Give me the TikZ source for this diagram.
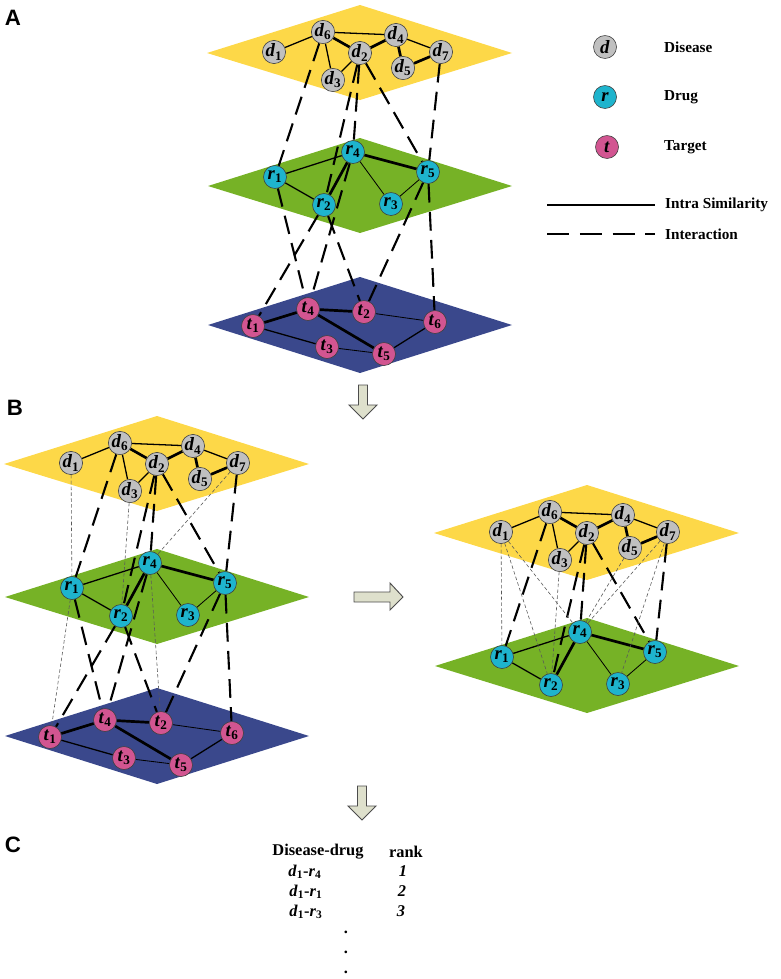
\documentclass[tikz,border=0pt]{standalone}
\usepackage{fontspec}
\setmainfont{Liberation Serif}
\newfontfamily\panelfont{Liberation Sans}
\usetikzlibrary{positioning}

\definecolor{diseaseplane}{RGB}{253,216,72}
\definecolor{drugplane}{RGB}{118,178,38}
\definecolor{targetplane}{RGB}{58,72,140}
\definecolor{diseasenode}{RGB}{192,192,192}
\definecolor{drugnode}{RGB}{30,180,205}
\definecolor{targetnode}{RGB}{210,85,145}
\definecolor{arrowfill}{RGB}{222,224,204}

\pgfdeclarelayer{planes}
\pgfdeclarelayer{links}
\pgfsetlayers{planes,links,main}

\newcommand{\lab}[2]{\textit{#1}\textsubscript{#2}}

\tikzset{
    vertex/.style={circle, draw=black!75, line width=0.5pt, minimum size=0.69cm, inner sep=0pt,
        font=\bfseries\fontsize{16}{16}\selectfont},
    dnode/.style={vertex, fill=diseasenode},
    rnode/.style={vertex, fill=drugnode},
    tnode/.style={vertex, fill=targetnode},
    sim/.style={line width=1.1pt},
    simthick/.style={line width=2.3pt},
    simthin/.style={line width=0.7pt},
    inter/.style={line width=1.8pt, dash pattern=on 16pt off 8pt},
    pred/.style={line width=0.5pt, black!65, dash pattern=on 3pt off 2pt},
    bigarrow/.style={draw=black!70, fill=arrowfill, line width=0.8pt, line join=miter},
    legendtext/.style={anchor=west, font=\bfseries\fontsize{13}{15}\selectfont},
    tabtext/.style={font=\bfseries\fontsize{14}{16}\selectfont},
    panel/.style={font=\panelfont\bfseries\fontsize{19}{19}\selectfont},
}

% one layer of the network, #1 = name prefix
\newcommand{\diseaselayer}[1]{%
    \begin{pgfonlayer}{planes}
        \fill[diseaseplane] (207,53) -- (360,5) -- (512,53) -- (360,100) -- cycle;
    \end{pgfonlayer}
    \node[dnode] (#1d1) at (274,52) {\lab{d}{1}};
    \node[dnode] (#1d6) at (323,32) {\lab{d}{6}};
    \node[dnode] (#1d2) at (360,53) {\lab{d}{2}};
    \node[dnode] (#1d3) at (333,80) {\lab{d}{3}};
    \node[dnode] (#1d4) at (396,35) {\lab{d}{4}};
    \node[dnode] (#1d5) at (403,68) {\lab{d}{5}};
    \node[dnode] (#1d7) at (441,52) {\lab{d}{7}};
    \begin{pgfonlayer}{links}
        \draw[sim] (#1d1) -- (#1d6);
        \draw[sim] (#1d6) -- (#1d4);
        \draw[simthick] (#1d6) -- (#1d2);
        \draw[sim] (#1d6) -- (#1d3);
        \draw[sim] (#1d3) -- (#1d2);
        \draw[simthick] (#1d2) -- (#1d4);
        \draw[sim] (#1d4) -- (#1d7);
        \draw[simthick] (#1d4) -- (#1d5);
        \draw[simthick] (#1d5) -- (#1d7);
    \end{pgfonlayer}
}
\newcommand{\druglayer}[1]{%
    \begin{pgfonlayer}{planes}
        \fill[drugplane] (208,186) -- (360,138) -- (512,186) -- (360,233) -- cycle;
    \end{pgfonlayer}
    \node[rnode] (#1r1) at (275,177) {\lab{r}{1}};
    \node[rnode] (#1r4) at (353,152) {\lab{r}{4}};
    \node[rnode] (#1r2) at (324,205) {\lab{r}{2}};
    \node[rnode] (#1r3) at (391,204) {\lab{r}{3}};
    \node[rnode] (#1r5) at (428,172) {\lab{r}{5}};
    \begin{pgfonlayer}{links}
        \draw[sim] (#1r1) -- (#1r4);
        \draw[sim] (#1r1) -- (#1r2);
        \draw[simthick] (#1r4) -- (#1r2);
        \draw[simthin] (#1r4) -- (#1r3);
        \draw[simthick] (#1r4) -- (#1r5);
        \draw[simthin] (#1r3) -- (#1r5);
    \end{pgfonlayer}
}
\newcommand{\targetlayer}[1]{%
    \begin{pgfonlayer}{planes}
        \fill[targetplane] (208,325) -- (360,277) -- (512,325) -- (360,373) -- cycle;
    \end{pgfonlayer}
    \node[tnode] (#1t1) at (253,326) {\lab{t}{1}};
    \node[tnode] (#1t4) at (308,309) {\lab{t}{4}};
    \node[tnode] (#1t2) at (364,312) {\lab{t}{2}};
    \node[tnode] (#1t6) at (435,322) {\lab{t}{6}};
    \node[tnode] (#1t3) at (327,347) {\lab{t}{3}};
    \node[tnode] (#1t5) at (384,354) {\lab{t}{5}};
    \begin{pgfonlayer}{links}
        \draw[simthick] (#1t1) -- (#1t4);
        \draw[simthick] (#1t4) -- (#1t2);
        \draw[simthick] (#1t4) -- (#1t5);
        \draw[sim] (#1t1) -- (#1t3);
        \draw[simthin] (#1t3) -- (#1t5);
        \draw[simthin] (#1t2) -- (#1t6);
        \draw[sim] (#1t5) -- (#1t6);
    \end{pgfonlayer}
}

\begin{document}
\begin{tikzpicture}[x=0.03cm, y=-0.03cm]
    \useasboundingbox (0,0) rectangle (780,979);

    % panel A
    \node[panel] (labA) at (13,18) {A};
    \diseaselayer{a-}
    \druglayer{a-}
    \targetlayer{a-}
    \begin{pgfonlayer}{links}
        \foreach \u/\v in {d6/r1, d2/r2, d2/r4, d2/r5, d7/r5,
                r1/t4, r2/t1, r2/t2, r4/t4, r5/t2, r5/t6}
            \draw[inter] (a-\u) -- (a-\v);
    \end{pgfonlayer}

    % legend
    \node[dnode] (keyd) at (605,47) {\textit{d}};
    \node[rnode] (keyr) at (605,97) {\textit{r}};
    \node[tnode] (keyt) at (607,147) {\textit{t}};
    \node[legendtext] (keydtext) at (660,47) {Disease};
    \node[legendtext] (keyrtext) at (660,97) {Drug};
    \node[legendtext] (keyttext) at (660,147) {Target};
    \coordinate (simL) at (547,205);
    \coordinate (simR) at (655,205);
    \coordinate (intL) at (547,234);
    \coordinate (intR) at (655,234);
    \draw[line width=2pt] (simL) -- (simR);
    \draw[line width=2pt, dash pattern=on 19pt off 9pt] (intL) -- (intR);
    \node[legendtext] (simtext) at (661,205) {Intra Similarity};
    \node[legendtext] (inttext) at (661,234) {Interaction};

    % arrows
    \draw[bigarrow] (358.5,385) -- (367.5,385) -- (367.5,405) -- (377,405) -- (363,419)
        -- (349,405) -- (358.5,405) -- cycle;
    \draw[bigarrow] (354,592) -- (390,592) -- (390,583) -- (403,597) -- (390,610)
        -- (390,602) -- (354,602) -- cycle;
    \draw[bigarrow] (357.5,786) -- (366.5,786) -- (366.5,806) -- (376,806) -- (362,820)
        -- (348,806) -- (357.5,806) -- cycle;

    % panel B, three layers
    \node[panel] (labB) at (15,408) {B};
    \begin{scope}[shift={(-203,411)}]
        \diseaselayer{bl-}
        \druglayer{bl-}
        \targetlayer{bl-}
    \end{scope}
    \begin{pgfonlayer}{links}
        \foreach \u/\v in {d6/r1, d2/r2, d2/r4, d2/r5, d7/r5,
                r1/t4, r2/t1, r2/t2, r4/t4, r5/t2, r5/t6}
            \draw[inter] (bl-\u) -- (bl-\v);
        \foreach \u/\v in {d1/r1, d3/r2, d7/r4, r1/t1, r4/t2}
            \draw[pred] (bl-\u) -- (bl-\v);
    \end{pgfonlayer}

    % panel B, two layers
    \begin{scope}[shift={(227,480)}]
        \diseaselayer{br-}
        \druglayer{br-}
    \end{scope}
    \begin{pgfonlayer}{links}
        \foreach \u/\v in {d6/r1, d2/r2, d2/r4, d2/r5, d7/r5}
            \draw[inter] (br-\u) -- (br-\v);
        \foreach \u/\v in {d1/r1, d1/r2, d1/r4, d3/r2, d5/r4, d7/r4, d7/r3}
            \draw[pred] (br-\u) -- (br-\v);
    \end{pgfonlayer}

    % panel C
    \node[panel] (labC) at (13,845) {C};
    \node[tabtext] (headpair) at (318,852) {Disease-drug};
    \node[tabtext] (headrank) at (406,852) {rank};
    \node[tabtext] (pair1) at (305,872) {\lab{d}{1}-\lab{r}{4}};
    \node[tabtext] (pair2) at (306,892) {\lab{d}{1}-\lab{r}{1}};
    \node[tabtext] (pair3) at (306,912) {\lab{d}{1}-\lab{r}{3}};
    \node[tabtext] (rank1) at (403,871) {\textit{1}};
    \node[tabtext] (rank2) at (402,891) {\textit{2}};
    \node[tabtext] (rank3) at (401,911) {\textit{3}};
    \node[tabtext] (dot1) at (346,932) {.};
    \node[tabtext] (dot2) at (346,952) {.};
    \node[tabtext] (dot3) at (346,972) {.};
\end{tikzpicture}
\end{document}
